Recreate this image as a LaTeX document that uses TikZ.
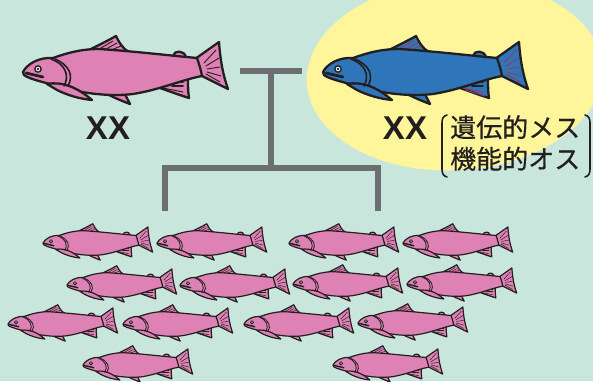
\documentclass[tikz,border=0pt]{standalone}
\usepackage{fontspec}
\newfontfamily\xxfont{Liberation Sans}
\newfontfamily\jpfont{Noto Sans CJK JP}[FakeBold=0.5]

\definecolor{mint}{HTML}{C9E6DC}
\definecolor{sunny}{HTML}{FFF59A}
\definecolor{salmonpink}{HTML}{DE82B5}
\definecolor{salmonblue}{HTML}{2E75BA}
\definecolor{forkgray}{HTML}{6D6E71}
\definecolor{ink}{HTML}{231F20}
\definecolor{finred}{HTML}{9A3A5C}

% One salmon, nose at (#1,#2), scaled by #3, body colour #4,
% outline width #5 (pt), fin-ray colour #6.
\newcommand\drawsalmon[6]{%
\begin{scope}[shift={(#1,#2)},scale=#3,line width=#5,draw=ink,fill=#4,
  line join=round,line cap=round]
  % caudal fin
  \filldraw (172,-13) -- (196,-30) .. controls (197,-16) and (199,0) .. (205,17) -- (179,4) -- cycle;
  \draw[#6,line width=0.4*#5] (181,-9) -- (193,-22) (183,-6) -- (196,-14)
    (184,-3) -- (197,-5) (184,0) -- (198,4) (183,2) -- (197,10);
  % dorsal fin
  \filldraw (66,-22) .. controls (76,-27) and (86,-32) .. (93,-36)
    .. controls (96,-30) and (99,-24) .. (106,-20);
  \draw[#6,line width=0.4*#5] (78,-24) -- (90,-31) (83,-23) -- (94,-29) (88,-22) -- (98,-26);
  % adipose fin
  \filldraw (150,-16) .. controls (151,-22) and (161,-22) .. (163,-15);
  % anal fin
  \filldraw (134,15) .. controls (146,19) and (156,23) .. (166,26)
    .. controls (165,20) and (165,13) .. (165,6);
  \draw[#6,line width=0.4*#5] (142,18) -- (162,24) (140,16) -- (160,20);
  \draw[line width=0.8*#5] (153,10) -- (160,10) (149,14) -- (160,14);
  % pelvic fin
  \filldraw (84,22) .. controls (92,26) and (99,29) .. (107,32)
    .. controls (105,28) and (103,24) .. (101,21);
  % body
  \filldraw (0,0) .. controls (4,-8) and (16,-15) .. (30,-14)
    .. controls (44,-19) and (58,-23) .. (76,-23)
    .. controls (108,-21) and (142,-17) .. (174,-14)
    .. controls (176,-8) and (178,-2) .. (179,4)
    .. controls (158,8) and (136,18) .. (110,22)
    .. controls (86,25) and (56,21) .. (34,14)
    .. controls (20,10) and (6,7) .. (1,3) -- cycle;
  % pectoral fin
  \filldraw (24,12) .. controls (40,9) and (55,16) .. (69,28)
    .. controls (57,27) and (44,23) .. (34,18) -- cycle;
  % gill cover
  \draw[line width=0.7*#5] (28,-13) .. controls (42,-8) and (47,3) .. (41,14);
  \draw[line width=0.7*#5] (32,-13) .. controls (46,-7) and (51,3) .. (45,14);
  % mouth
  \draw[line width=1.2*#5] (3,1) -- (20,5);
  % eye
  \filldraw[fill=white,line width=0.6*#5] (15,-3) circle (3.2);
  \fill[ink] (15,-3) circle (1.3);
\end{scope}}

\tikzset{
  fork/.style={draw=forkgray,line width=6pt,line join=miter,line cap=butt},
  xxlabel/.style={font=\xxfont\bfseries\fontsize{33}{33}\selectfont,text=ink,inner sep=0pt},
  jplabel/.style={font=\jpfont\fontsize{26}{31.5}\selectfont,text=ink,inner sep=0pt,align=left},
  bracket/.style={draw=ink,line width=1.6pt,line cap=round}
}

\begin{document}
\begin{tikzpicture}[x=1pt,y=-1pt]
  \useasboundingbox (0,0) rectangle (593,381);
  \fill[mint] (0,0) rectangle (593,381);
  % highlight behind the second parent
  \fill[sunny] (450,99) [rotate=3] ellipse [x radius=148pt,y radius=95pt];

  % family tree lines
  \coordinate (pl) at (240,71);
  \coordinate (pr) at (302,71);
  \coordinate (pm) at (271,71);
  \coordinate (hub) at (271,167.5);
  \coordinate (ol) at (164.5,211);
  \coordinate (or) at (377.5,211);
  \draw[fork] (pl) -- (pr);
  \draw[fork] (pm) -- (hub);
  \draw[fork] (ol) |- (hub) -| (or);

  % parents
  \drawsalmon{23}{72}{1}{salmonpink}{2.3}{ink}
  \drawsalmon{323}{72}{1}{salmonblue}{2.3}{finred}

  \node[xxlabel] (xxl) at (108,128) {XX};
  \node[xxlabel] (xxr) at (405,128.5) {XX};
  \node[jplabel,anchor=west] (sex) at (450,143) {遺伝的メス\\機能的オス};
  \draw[bracket] (447,115) .. controls (443,116) and (442,119) .. (442,123) -- (442,169)
    .. controls (442,173) and (443,176) .. (447,177);
  \draw[bracket] (585,115) .. controls (589,116) and (590,119) .. (590,123) -- (590,169)
    .. controls (590,173) and (589,176) .. (585,177);

  % offspring
  \foreach \px/\py in {43/243,157/243,289/243,403/243,
                       67/285,180/285,293/284,407/284,
                       8/324,123/324,244/324,358/323,
                       83/365,333/365}
  {\drawsalmon{\px}{\py}{0.535}{salmonpink}{1.2}{ink}}
\end{tikzpicture}
\end{document}
